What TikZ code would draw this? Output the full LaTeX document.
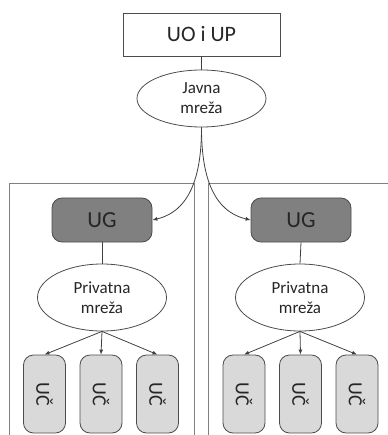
\documentclass[tikz,border=0pt]{standalone}
\usepackage{fontspec}
\usepackage{graphicx}
\setmainfont{Carlito}
\usetikzlibrary{shapes.geometric,arrows.meta}
\begin{document}
\begin{tikzpicture}[x=1pt,y=-1pt,
  line/.style={draw=black!75, line width=0.8pt},
  arr/.style={line, -{Latex[length=5pt,width=4pt]}},
  topbox/.style={draw=black!70, line width=0.9pt, minimum width=157pt, minimum height=43pt, inner sep=0pt, text=black!85, font=\fontsize{22}{26}\selectfont},
  net/.style={ellipse, draw=black!70, line width=0.8pt, fill=white, minimum width=129pt, inner sep=0pt, align=center, text=black!85, font=\fontsize{17}{20}\selectfont},
  ugbox/.style={rounded corners=10pt, draw=black!70, fill=black!50, line width=0.8pt, minimum width=100pt, minimum height=44pt, inner sep=0pt, text=black!85, font=\fontsize{23}{26}\selectfont},
  ucbox/.style={rounded corners=10pt, draw=black!70, fill=black!15, line width=0.8pt, minimum width=42pt, minimum height=78pt, inner sep=0pt, text=black!85, font=\fontsize{20}{24}\selectfont},
  panel/.style={draw=black!50, line width=1pt}]
\useasboundingbox (0,0) rectangle (387,435);
\draw[panel] (9,184) rectangle (194,445);
\draw[panel] (208,184) rectangle (400,445);

\node[topbox] (top) at (201.5,34.5) {UO i UP};
\node[net, minimum height=57pt] (jav) at (201.5,98.5) {Javna\\mreža};
\draw[line] (top.south) -- (jav.north);

\node[ugbox] (ug1) at (102,220) {UG};
\node[ugbox] (ug2) at (301,220) {UG};
\node[net, minimum height=67pt] (priv1) at (102,297.5) {Privatna\\mreža};
\node[net, minimum height=67pt] (priv2) at (300,297.5) {Privatna\\mreža};
\draw[line] (ug1.south) -- (priv1.north);
\draw[line] (ug2.south) -- (priv2.north);

\draw[arr] (jav.south) .. controls (201.5,165) and (195,210) .. (ug1.east);
\draw[arr] (jav.south) .. controls (201.5,165) and (208,210) .. (ug2.west);

\node[ucbox] (uc1) at (44.5,394) {\rotatebox{-90}{UČ}};
\node[ucbox] (uc2) at (101,394) {\rotatebox{-90}{UČ}};
\node[ucbox] (uc3) at (157.5,394) {\rotatebox{-90}{UČ}};
\node[ucbox] (uc4) at (244,394) {\rotatebox{-90}{UČ}};
\node[ucbox] (uc5) at (300.5,394) {\rotatebox{-90}{UČ}};
\node[ucbox] (uc6) at (357,394) {\rotatebox{-90}{UČ}};

\draw[arr] (priv1.south) -- (uc1.north);
\draw[arr] (priv1.south) -- (uc2.north);
\draw[arr] (priv1.south) -- (uc3.north);
\draw[arr] (priv2.south) -- (uc4.north);
\draw[arr] (priv2.south) -- (uc5.north);
\draw[arr] (priv2.south) -- (uc6.north);
\end{tikzpicture}
\end{document}
